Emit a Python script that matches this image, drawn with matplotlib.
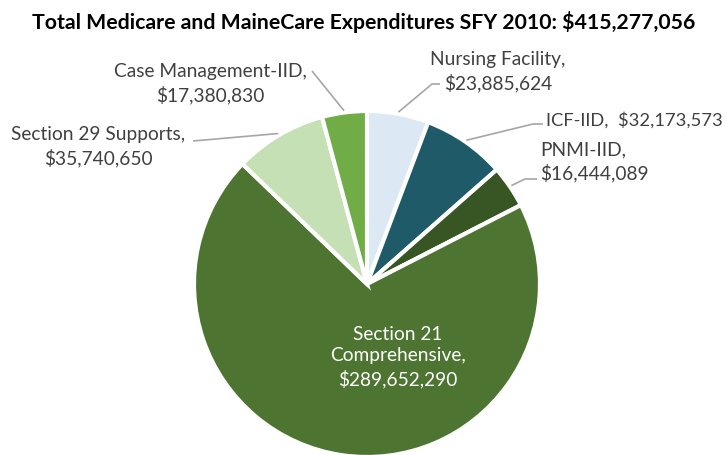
import numpy as np
import matplotlib
matplotlib.use("Agg")
import matplotlib.pyplot as plt

# ---- data ----
categories = ["Nursing Facility", "ICF-IID", "PNMI-IID", "Section 21\nComprehensive",
              "Section 29 Supports", "Case Management-IID"]
values = [23885624, 32173573, 16444089, 289652290, 35740650, 17380830]
colors = ["#DCE8F4", "#1F5A69", "#375623", "#4D7431", "#C5E0B4", "#70AD47"]
title = "Total Medicare and MaineCare Expenditures SFY 2010: $415,277,056"

plt.rcParams['font.family'] = ['Lato', 'DejaVu Sans']

W, H = 728, 456
fig = plt.figure(figsize=(W / 100, H / 100), dpi=100)
ax = fig.add_axes([0, 0, 1, 1])
ax.set_xlim(0, W)
ax.set_ylim(0, H)
ax.set_aspect('equal')
ax.axis('off')

cx, cy, R = 367, H - 285, 173
wedges, _ = ax.pie(values, colors=colors, startangle=90, counterclock=False,
                   center=(cx, cy), radius=R,
                   wedgeprops=dict(edgecolor='white', linewidth=3))
ax.set_xlim(0, W)
ax.set_ylim(0, H)

fig.text(0.5, 1 - 22 / H, title, ha='center', va='center', fontsize=15.3,
         fontweight='bold', color='black')

def fmt(v):
    return "${:,}".format(v)

tc = "#404040"
lc = "#A6A6A6"
fs = 13.8

def wedge_point(i, frac=1.0):
    w = wedges[i]
    ang = np.deg2rad((w.theta1 + w.theta2) / 2)
    return cx + R * frac * np.cos(ang), cy + R * frac * np.sin(ang)

labels = []
# Nursing Facility
labels.append((498, 72, 'center', f"{categories[0]},\n{fmt(values[0])}", [(440, 85), (432, 85)], 0, fs))
# ICF-IID
labels.append((546, 120, 'left', f"{categories[1]},  {fmt(values[1])}", [(543, 125), (533, 125)], 1, 13.2))
# PNMI-IID
labels.append((540, 162, 'left', f"{categories[2]},\n{fmt(values[2])}", [(537, 180), (525, 180)], 2, fs))
# Section 29
labels.append((98, 147, 'center', f"{categories[4]},\n{fmt(values[4])}", [(193, 142)], 4, fs))
# Case Management
labels.append((210, 84, 'center', f"{categories[5]},\n{fmt(values[5])}", [(312, 72)], 5, fs))

for x, y, ha, txt, pts, i, size in labels:
    ax.text(x, H - y, txt, ha=ha, va='center', fontsize=size, color=tc, linespacing=1.35)
    px, py = wedge_point(i, 1.01)
    xs = [p[0] for p in pts] + [px]
    ys = [H - p[1] for p in pts] + [py]
    ax.plot(xs, ys, color=lc, linewidth=1.2, solid_capstyle='butt')

# Section 21 inside label
ax.text(398, H - 357, f"{categories[3]},\n{fmt(values[3])}", ha='center', va='center',
        fontsize=fs, color='white', linespacing=1.35)

fig.savefig("out.png", dpi=100)
